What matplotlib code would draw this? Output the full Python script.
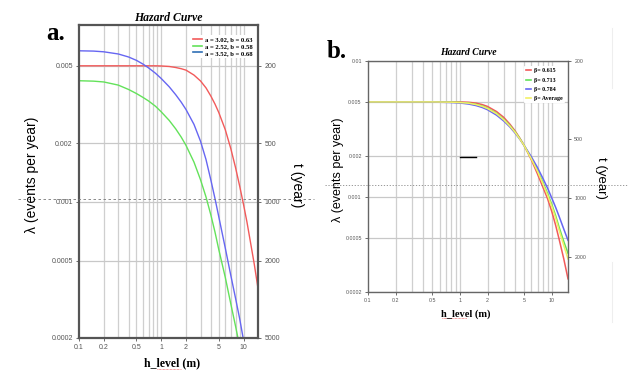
import numpy as np
import matplotlib
matplotlib.use("Agg")
import matplotlib.pyplot as plt
from matplotlib.lines import Line2D
from matplotlib.ticker import FixedLocator, NullLocator

# ---- panel a data ----
h_a = [0.1, 0.15, 0.2, 0.3, 0.4, 0.5, 0.6, 0.7, 0.85, 1, 1.25, 1.5, 1.75, 2, 2.5, 3,
       3.5, 4, 4.5, 5, 6, 7, 8, 9, 10, 11, 12, 13.5, 15]
red_a = [0.005, 0.005, 0.005, 0.005, 0.005, 0.005, 0.005, 0.005, 0.005, 0.00499, 0.00496,
         0.0049, 0.00483, 0.00475, 0.00448, 0.00418, 0.00385, 0.0035, 0.00318, 0.00288,
         0.00235, 0.00188, 0.0015, 0.0012, 0.00097, 0.00079, 0.00064, 0.00048, 0.00036]
green_a = [0.00419, 0.00417, 0.00413, 0.00398, 0.00378, 0.0036, 0.00344, 0.0033, 0.0031,
           0.0029, 0.00262, 0.00237, 0.00215, 0.00195, 0.0016, 0.0013, 0.00106, 0.00086,
           0.0007, 0.00057, 0.00041, 0.0003, 0.00023, 0.00018, 0.00014, 0.00011, 0.00009,
           0.00007, 0.00005]
blue_a = [0.00597, 0.00595, 0.0059, 0.00575, 0.00555, 0.00533, 0.0051, 0.00488, 0.00458,
          0.0043, 0.0039, 0.00355, 0.00325, 0.00298, 0.0025, 0.00205, 0.00165, 0.0013,
          0.00104, 0.00084, 0.00058, 0.00042, 0.00032, 0.00025, 0.000195, 0.00015, 0.00012,
          0.00009, 0.00007]
labels_a = ['a = 3.02, b = 0.63', 'a = 2.52, b = 0.58', 'a = 3.52, b = 0.68']

# ---- panel b data ----
h_b = [0.1, 0.5, 0.8, 1, 1.25, 1.5, 1.75, 2, 2.5, 3, 3.5, 4, 4.5, 5, 6, 7, 8, 9, 10, 11,
       12, 13.5, 15]
red_b = [0.005, 0.005, 0.005, 0.005, 0.00497, 0.0049, 0.00478, 0.00463, 0.00425, 0.00385,
         0.00343, 0.00305, 0.0027, 0.00239, 0.00187, 0.00147, 0.00118, 0.00097, 0.00078,
         0.00062, 0.00049, 0.00035, 0.00025]
green_b = [0.005, 0.005, 0.00498, 0.00496, 0.0049, 0.0048, 0.00467, 0.0045, 0.00413, 0.00373,
           0.00335, 0.003, 0.00268, 0.00239, 0.00192, 0.00156, 0.00128, 0.00106, 0.00088,
           0.00073, 0.0006, 0.00047, 0.000385]
blue_b = [0.005, 0.00499, 0.00495, 0.00491, 0.00482, 0.0047, 0.00455, 0.00438, 0.004, 0.00362,
          0.00327, 0.00294, 0.00265, 0.00239, 0.00197, 0.00164, 0.00137, 0.00116, 0.00098,
          0.00084, 0.00072, 0.00058, 0.00048]
yellow_b = [0.005, 0.005, 0.00498, 0.00495, 0.00489, 0.00478, 0.00464, 0.00447, 0.0041, 0.0037,
            0.00332, 0.00298, 0.00266, 0.00239, 0.0019, 0.00154, 0.00125, 0.00103, 0.00085,
            0.0007, 0.00057, 0.00044, 0.00035]
labels_b = ['\u03b2= 0.615', '\u03b2= 0.713', '\u03b2= 0.784', '\u03b2= Average']

x_ticks = [0.1, 0.2, 0.5, 1, 2, 5, 10]
x_ticklabels = ['0.1', '0.2', '0.5', '1', '2', '5', '10']
x_grid = [0.2, 0.3, 0.4, 0.5, 0.6, 0.7, 0.8, 0.9, 1, 2, 3, 4, 5, 6, 7, 8, 9, 10]

y_ticks_a = [0.0002, 0.0005, 0.001, 0.002, 0.005]
y_ticklabels_a = ['0.0002', '0.0005', '0.001', '0.002', '0.005']
t_ticks_a = [200, 500, 1000, 2000, 5000]
y_ticks_b = [0.0002, 0.0005, 0.001, 0.002, 0.005, 0.01]
y_ticklabels_b = ['0.0002', '0.0005', '0.001', '0.002', '0.005', '0.01']
t_ticks_b = [200, 500, 1000, 2000]

RED, GREEN, BLUE, YELLOW = '#f25a5a', '#63e25a', '#6666f2', '#f2f066'
SERIF = 'Liberation Serif'
SANS = 'Liberation Sans'
TICKC = '#555555'

fig = plt.figure(figsize=(6.28, 3.73), dpi=100)
W, H = 628.0, 373.0


def px_axes(l, r, t, b):
    return fig.add_axes([l / W, 1 - b / H, (r - l) / W, (b - t) / H])


def style_axes(ax, ylim, yticks, ylabels, spine_w, spine_c, fs):
    ax.set_xscale('log')
    ax.set_yscale('log')
    ax.set_xlim(0.1, 15)
    ax.set_ylim(*ylim)
    ax.xaxis.set_major_locator(FixedLocator(x_ticks))
    ax.set_xticklabels(x_ticklabels)
    ax.xaxis.set_minor_locator(NullLocator())
    ax.yaxis.set_major_locator(FixedLocator(yticks))
    ax.set_yticklabels(ylabels)
    ax.yaxis.set_minor_locator(NullLocator())
    for g in x_grid:
        ax.axvline(g, color='#cfcfcf', lw=0.9, zorder=0)
    for yv in yticks:
        ax.axhline(yv, color='#c8c8c8', lw=0.9, zorder=0)
    for s in ax.spines.values():
        s.set_linewidth(spine_w)
        s.set_color(spine_c)
    ax.tick_params(axis='both', labelsize=fs, colors=TICKC, length=2.5, width=0.6,
                   pad=2, direction='out')
    for lab in ax.get_xticklabels() + ax.get_yticklabels():
        lab.set_family(SANS)


def right_axis(ax, ylim, ticks, fs):
    axr = ax.twinx()
    axr.set_yscale('log')
    axr.set_ylim(*ylim)
    axr.yaxis.set_major_locator(FixedLocator(ticks))
    axr.set_yticklabels([str(t) for t in ticks])
    axr.yaxis.set_minor_locator(NullLocator())
    axr.tick_params(labelsize=fs, colors=TICKC, length=2.5, width=0.6, pad=2)
    for lab in axr.get_yticklabels():
        lab.set_family(SANS)
    for s in axr.spines.values():
        s.set_visible(False)
    return axr


# ---------------- panel a ----------------
ax1 = px_axes(79, 258, 25, 338)
ytop_a = 0.0081
style_axes(ax1, (0.0002, ytop_a), y_ticks_a, y_ticklabels_a, 1.6, '#555555', 5)
ax1.plot(h_a, red_a, color=RED, lw=1.0)
ax1.plot(h_a, green_a, color=GREEN, lw=1.0)
ax1.plot(h_a, blue_a, color=BLUE, lw=1.0)
handles = [Line2D([], [], color=RED, lw=1.2), Line2D([], [], color=GREEN, lw=1.2),
           Line2D([], [], color='#2f6fb5', lw=1.2)]
ax1.legend(handles, labels_a, loc='upper right', bbox_to_anchor=(1.0, 0.98),
           frameon=True, framealpha=1, edgecolor='none', handlelength=1.4,
           handletextpad=0.4, labelspacing=0.15, borderpad=0.3,
           prop={'family': SERIF, 'weight': 'bold', 'size': 4.8})
ax1.set_title('Hazard Curve', family=SERIF, style='italic', weight='bold', fontsize=8.5, pad=3)
right_axis(ax1, (1 / 0.0002, 1 / ytop_a), t_ticks_a, 5)

fig.text(32 / W, 1 - 175 / H, '\u03bb (events per year)', rotation=90, ha='center',
         va='center', family=SANS, fontsize=10)
fig.text(297 / W, 1 - 185 / H, 't (year)', rotation=270, ha='center', va='center',
         family=SANS, fontsize=10)
fig.text(172 / W, 1 - 363 / H, 'h_level (m)', ha='center', va='center', family=SERIF,
         weight='bold', fontsize=8.5)
fig.text(56 / W, 1 - 34 / H, 'a.', ha='center', va='center', family=SERIF,
         weight='bold', fontsize=18)

# ---------------- panel b ----------------
ax2 = px_axes(368, 568, 61, 292)
style_axes(ax2, (0.0002, 0.01), y_ticks_b, y_ticklabels_b, 1.0, '#666666', 3.8)
ax2.plot(h_b, red_b, color=RED, lw=1.1)
ax2.plot(h_b, green_b, color=GREEN, lw=1.1)
ax2.plot(h_b, blue_b, color=BLUE, lw=1.1)
ax2.plot(h_b, yellow_b, color=YELLOW, lw=1.1)
hb = [Line2D([], [], color=c, lw=1.2) for c in (RED, GREEN, BLUE, YELLOW)]
ax2.legend(hb, labels_b, loc='upper right', bbox_to_anchor=(1.0, 0.99), frameon=True,
           framealpha=1, edgecolor='none', handlelength=1.0, handletextpad=0.5,
           labelspacing=0.7, borderpad=0.3,
           prop={'family': SERIF, 'weight': 'bold', 'size': 4.3})
ax2.set_title('Hazard Curve', family=SERIF, style='italic', weight='bold', fontsize=7, pad=4)
right_axis(ax2, (3015, 200), t_ticks_b, 3.8)

fig.text(338 / W, 1 - 170 / H, '\u03bb (events per year)', rotation=90, ha='center',
         va='center', family=SANS, fontsize=9)
fig.text(601 / W, 1 - 178 / H, 't (year)', rotation=270, ha='center', va='center',
         family=SANS, fontsize=9.5)
fig.text(466 / W, 1 - 314 / H, 'h_level (m)', ha='center', va='center', family=SERIF,
         weight='bold', fontsize=7.5)
fig.text(337 / W, 1 - 52 / H, 'b.', ha='center', va='center', family=SERIF,
         weight='bold', fontsize=18)

# ---------------- page artefacts ----------------
def fig_line(x0, x1, y0, y1, **kw):
    fig.add_artist(Line2D([x0 / W, x1 / W], [1 - y0 / H, 1 - y1 / H],
                          transform=fig.transFigure, **kw))

fig_line(18, 314, 199, 199, color='#777777', lw=0.6, ls=(0, (3, 3)))
fig_line(325, 628, 185, 185, color='#888888', lw=0.6, ls=(0, (1.5, 2)))
fig_line(460, 476, 157, 157, color='black', lw=1.0)
fig_line(612, 612, 28, 88, color='#eeeeee', lw=0.8)
fig_line(612, 612, 262, 322, color='#eeeeee', lw=0.8)
fig_line(157, 181, 369, 369, color='#ee4444', lw=0.5, ls=(0, (1, 1)))
fig_line(442, 467, 318, 318, color='#ee4444', lw=0.5, ls=(0, (1, 1)))

fig.savefig('out.png', dpi=100)
